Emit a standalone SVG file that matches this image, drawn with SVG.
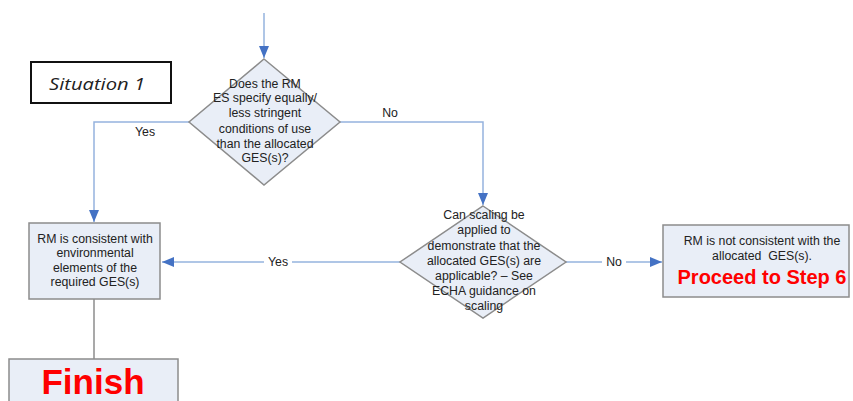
<svg xmlns="http://www.w3.org/2000/svg" width="853" height="401" viewBox="0 0 853 401">
<style>
.node{fill:#e9eef7;stroke:#8c8c8c;stroke-width:1.5}
.t{font-family:"Liberation Sans",Arial,sans-serif;font-size:12.3px;fill:#222;text-anchor:middle}
.lbl{font-family:"Liberation Sans",Arial,sans-serif;font-size:12.3px;fill:#222;text-anchor:middle}
.red{font-family:"Liberation Sans",Arial,sans-serif;font-weight:bold;fill:#ff0000;text-anchor:middle}
.c{fill:none;stroke:#95b3de;stroke-width:1.5}
.g{fill:none;stroke:#8c8c8c;stroke-width:1.5}
</style>
<defs>
<marker id="ah" viewBox="0 0 12 10" refX="12" refY="5" markerWidth="12" markerHeight="10" markerUnits="userSpaceOnUse" orient="auto">
<path d="M0,0 L12,5 L0,10 Z" fill="#4472c4"/>
</marker>
</defs>
<rect width="853" height="401" fill="#ffffff"/>

<g id="situation">
<rect x="31" y="62" width="140" height="41" fill="#fff" stroke="#111" stroke-width="2"/>
<text x="97" y="90" font-family="'Open Sans','Liberation Sans',sans-serif" font-style="italic" font-size="17" fill="#222" text-anchor="middle" textLength="96" lengthAdjust="spacingAndGlyphs">Situation 1</text>
</g>

<g id="connectors">
<line class="c" x1="264" y1="13" x2="264" y2="58" marker-end="url(#ah)"/>
<polyline class="c" points="189,122 94,122 94,222" marker-end="url(#ah)"/>
<polyline class="c" points="340,122 483,122 483,205" marker-end="url(#ah)"/>
<line class="c" x1="400" y1="262" x2="162" y2="262" marker-end="url(#ah)"/>
<line class="c" x1="566" y1="262" x2="662" y2="262" marker-end="url(#ah)"/>
<line class="g" x1="94" y1="299" x2="94" y2="359"/>
<rect x="264" y="255" width="28" height="14" fill="#fff"/>
<text class="lbl" x="278" y="266">Yes</text>
<rect x="602" y="255" width="24" height="14" fill="#fff"/>
<text class="lbl" x="614" y="266">No</text>
<text class="lbl" x="145" y="136">Yes</text>
<text class="lbl" x="390" y="117">No</text>
</g>

<g id="decision1">
<polygon class="node" points="264,59 340,122 264,185 189,122"/>
<text class="t" x="265" y="88">Does the RM</text>
<text class="t" x="265" y="102">ES specify equally/</text>
<text class="t" x="265" y="117">less stringent</text>
<text class="t" x="265" y="133">conditions of use</text>
<text class="t" x="265" y="148">than the allocated</text>
<text class="t" x="265" y="162">GES(s)?</text>
</g>

<g id="decision2">
<polygon class="node" points="483,206 566,262 483,318 400,262"/>
<text class="t" x="484" y="219">Can scaling be</text>
<text class="t" x="484" y="234">applied to</text>
<text class="t" x="484" y="250">demonstrate that the</text>
<text class="t" x="484" y="265">allocated GES(s) are</text>
<text class="t" x="484" y="280">applicable? – See</text>
<text class="t" x="484" y="295">ECHA guidance on</text>
<text class="t" x="484" y="310">scaling</text>
</g>

<g id="consistent">
<rect class="node" x="29" y="223" width="131" height="76"/>
<text class="t" x="95" y="243">RM is consistent with</text>
<text class="t" x="95" y="257">environmental</text>
<text class="t" x="95" y="272">elements of the</text>
<text class="t" x="95" y="286">required GES(s)</text>
</g>

<g id="notconsistent">
<rect class="node" x="663" y="225" width="186" height="72"/>
<text class="t" x="762" y="245">RM is not consistent with the</text>
<text class="t" x="762" y="260" xml:space="preserve">allocated  GES(s).</text>
<text class="red" x="762" y="284" font-size="20">Proceed to Step 6</text>
</g>

<g id="finish">
<rect class="node" x="9" y="359" width="169" height="50"/>
<text class="red" x="93" y="394" font-size="35">Finish</text>
</g>
</svg>
